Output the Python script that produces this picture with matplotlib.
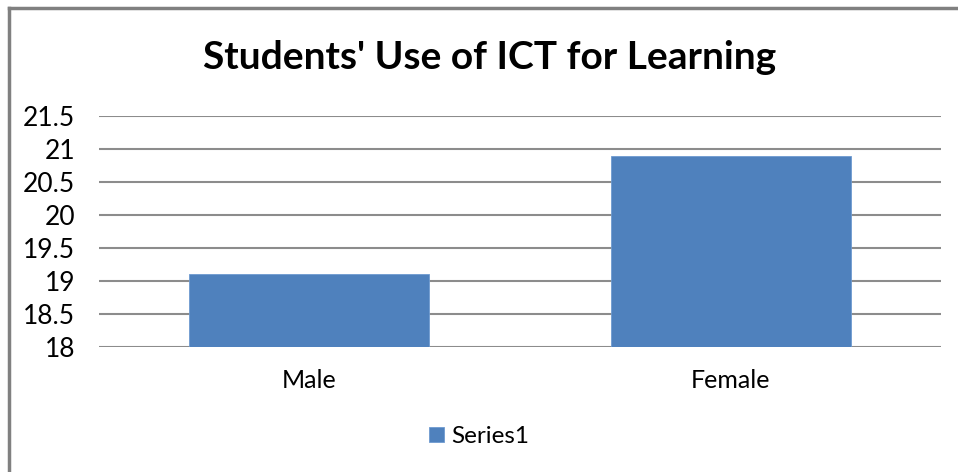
import matplotlib.pyplot as plt
from matplotlib.lines import Line2D

categories = ['Male', 'Female']
values = [19.1, 20.9]
yticks = [18, 18.5, 19, 19.5, 20, 20.5, 21, 21.5]
ytick_labels = ['18', '18.5', '19', '19.5', '20', '20.5', '21', '21.5']

plt.rcParams['font.family'] = ['Lato', 'DejaVu Sans']

fig = plt.figure(figsize=(9.58, 4.72), dpi=100)
ax = fig.add_axes([0.1033, 0.2648, 0.879, 0.4894])

x = range(len(categories))
ax.bar(x, values, width=0.57, color='#4F81BD', edgecolor='#6f9bd0',
       linewidth=0.6, zorder=3, label='Series1')
ax.set_xlim(-0.5, 1.5)
ax.set_ylim(18, 21.5)
ax.set_yticks(yticks)
ax.set_yticklabels(ytick_labels, fontsize=19)
ax.set_xticks(list(x))
ax.set_xticklabels(categories, fontsize=18)
ax.tick_params(axis='y', length=0, pad=17)
ax.tick_params(axis='x', length=0, pad=16)
ax.grid(axis='y', color='#8c8c8c', linewidth=1.5, zorder=0)
for s in ax.spines.values():
    s.set_visible(False)

fig.text(0.511, 0.878, "Students' Use of ICT for Learning", ha='center', va='center',
         fontsize=28, fontweight='bold')

ax.legend(loc='center', bbox_to_anchor=(0.5, 0.075), bbox_transform=fig.transFigure,
          frameon=False, fontsize=17.5, handlelength=0.6, handleheight=0.6,
          handletextpad=0.3)

# chart frame (top and left edges visible)
fig.add_artist(Line2D([0.0094, 1.0], [0.983, 0.983], transform=fig.transFigure,
                      color='#808080', linewidth=2.5))
fig.add_artist(Line2D([0.0094, 0.0094], [0.0, 0.983], transform=fig.transFigure,
                      color='#808080', linewidth=2.5))

fig.savefig('out.png', dpi=100)
